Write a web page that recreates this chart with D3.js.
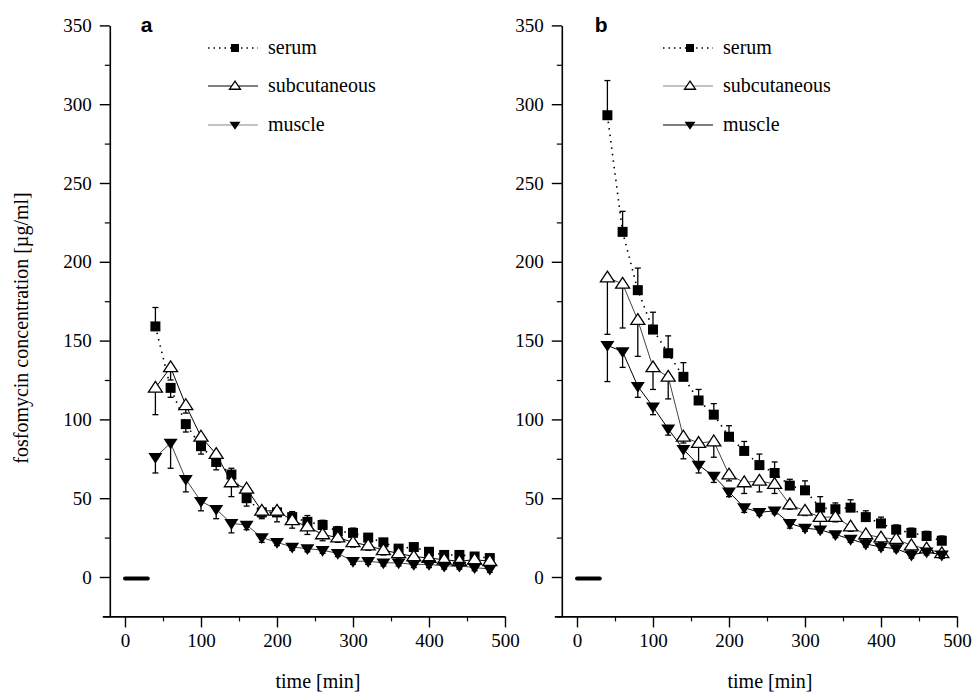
<!DOCTYPE html>
<html><head><meta charset="utf-8">
<script src="https://cdn.jsdelivr.net/npm/d3@7"></script>
<style>body{margin:0;background:#fff}svg{display:block}</style>
</head><body><svg id="c" width="972" height="693"></svg>
<script>
const times = [40,60,80,100,120,140,160,180,200,220,240,260,280,300,320,340,360,380,400,420,440,460,480];
const baseTimes = [0,30];
const baseValues = [-1,-1];

const aSerum    = [159,120,97,83,73,65,50,41,41,38,35,33,29,28,25,22,18,19,16,14,14,13,12];
const aSerumErr = [12,-6,-5,-5,-5,4,-5,-4,3,3.5,4,3,3,3,2,2,2,2,2,2,2,2,2];
const aSub      = [120,133,109,89,78,60,56,42,42,36,32,27,25,22,20,17,15,13,12,11,10,11,10];
const aSubErr   = [-17,-8,-5,-4,-6,-9,-5,-4,-7,-5,-5,-4,-3,-3,-3,-3,-3,-2,-2,-2,-2,-2,-2];
const aMus      = [76,85,62,48,43,34,33,25,22,19,18,17,15,10,10,9,9,8,8,7,7,6,5];
const aMusErr   = [-10,-16,-8,-6,-6,-6,-3,-3,-2,-2,-2,-2,-2,-2,-2,-2,-2,-2,-2,-2,-2,-2,-2];

const bSerum    = [293,219,182,157,142,127,112,103,89,80,71,66,58,55,44,43,44,38,34,30,28,26,23];
const bSerumErr = [22,13,14,11,11,9,7,7,7,6,7,7,4,6,7,4,5,4,4,3,3,3,3];
const bSub      = [190,186,163,133,127,89,85,86,65,60,61,59,46,42,38,38,32,27,25,24,20,18,15];
const bSubErr   = [-36,-28,-23,-14,-14,-4,-14,-10,-4,-7,-7,-6,-3,-3,-6,-3,-3,-3,-3,-3,-3,-3,-3];
const bMus      = [147,143,121,108,94,81,71,64,54,44,41,42,34,31,30,27,24,21,19,18,14,16,14];
const bMusErr   = [-23,-10,-7,-5,-4,-6,-5,-4,-3,-3,-2,-2,-3,-2,-2,-2,-2,-2,-2,-2,-2,-2,-2];

const seriesNames = ["serum","subcutaneous","muscle"];
const xMajor = [0,100,200,300,400,500];
const xMinor = [50,150,250,350,450];
const yMajor = [0,50,100,150,200,250,300,350];
const yMinor = [-25,25,75,125,175,225,275,325];
const panelLabels = ["a","b"];
const xTitle = "time [min]";
const yTitle = "fosfomycin concentration [µg/ml]";

const SERIF = '"Liberation Serif", "Times New Roman", serif';
const SANS = '"Liberation Sans", Arial, sans-serif';
const svg = d3.select("#c");

const panels = [
  {x0:109.8, x1:505, label:panelLabels[0], legX:208,
   data:[aSerum,aSub,aMus], err:[aSerumErr,aSubErr,aMusErr],
   legStroke:["#000","#000","#888"], lineStroke:["#000","#000","#444"]},
  {x0:561.8, x1:957, label:panelLabels[1], legX:663,
   data:[bSerum,bSub,bMus], err:[bSerumErr,bSubErr,bMusErr],
   legStroke:["#000","#888","#000"], lineStroke:["#000","#444","#000"]}
];

const y = d3.scaleLinear().domain([-25,350]).range([616.4,25.4]);

function marker(g, type, cx, cy, s){
  if(type===0){
    g.append("rect").attr("x",cx-s/2).attr("y",cy-s/2).attr("width",s).attr("height",s).attr("fill","#000");
  } else if(type===1){
    const h=s*0.9;
    g.append("path").attr("d",`M${cx},${cy-h*0.6}L${cx+s/2+1},${cy+h*0.4}L${cx-s/2-1},${cy+h*0.4}Z`)
     .attr("fill","#fff").attr("stroke","#000").attr("stroke-width",1.3);
  } else {
    const h=s*0.9;
    g.append("path").attr("d",`M${cx},${cy+h*0.6}L${cx+s/2+1},${cy-h*0.4}L${cx-s/2-1},${cy-h*0.4}Z`)
     .attr("fill","#000");
  }
}

panels.forEach(p=>{
  const x = d3.scaleLinear().domain([-20,500]).range([p.x0,p.x1]);
  const g = svg.append("g");

  // axes
  const xa = g.append("g").attr("transform",`translate(0,${y(-25)})`)
    .call(d3.axisBottom(x).tickValues(xMajor).tickSize(11).tickSizeOuter(0).tickPadding(6));
  xa.selectAll("text").style("font-size","19px").style("font-family",SERIF).attr("fill","#000");
  xa.select(".domain").attr("d",`M${p.x0-7},0.5H${p.x1}`).attr("stroke-width",1.6);
  xa.selectAll(".tick line").attr("stroke-width",1.4);
  g.append("g").attr("transform",`translate(0,${y(-25)})`)
    .call(d3.axisBottom(x).tickValues(xMinor).tickSize(5).tickSizeOuter(0).tickFormat(""))
    .call(s=>s.select(".domain").remove()).selectAll("line").attr("stroke-width",1.2);

  const ya = g.append("g").attr("transform",`translate(${p.x0},0)`)
    .call(d3.axisLeft(y).tickValues(yMajor).tickSize(10).tickSizeOuter(0).tickPadding(8));
  ya.selectAll("text").style("font-size","19px").style("font-family",SERIF).attr("fill","#000");
  ya.select(".domain").attr("stroke-width",1.6);
  ya.selectAll(".tick line").attr("stroke-width",1.4);
  g.append("g").attr("transform",`translate(${p.x0},0)`)
    .call(d3.axisLeft(y).tickValues(yMinor).tickSize(5).tickSizeOuter(0).tickFormat(""))
    .call(s=>s.select(".domain").remove()).selectAll("line").attr("stroke-width",1.2);

  // x title
  g.append("text").attr("x",(x(0)+x(500))/2+3).attr("y",688).attr("text-anchor","middle")
    .style("font-family",SERIF).style("font-size","20px").text(xTitle);

  // panel label
  g.append("text").attr("x",x(30)+(p.label==="a"?-7:-5)).attr("y",32)
    .style("font-family",SANS).style("font-weight","bold").style("font-size","21px").text(p.label);

  // baseline
  g.append("path").datum(baseTimes.map((t,i)=>[t,baseValues[i]]))
    .attr("d",d3.line().x(d=>x(d[0])).y(d=>y(d[1])))
    .attr("stroke","#000").attr("stroke-width",4).attr("stroke-linecap","round").attr("fill","none");

  const line = d3.line().x(d=>x(d[0])).y(d=>y(d[1]));
  // lines
  p.data.forEach((vals,si)=>{
    g.append("path").datum(times.map((t,i)=>[t,vals[i]]))
      .attr("d",line).attr("fill","none").attr("stroke",p.lineStroke[si])
      .attr("stroke-width",si===0?1.6:1)
      .attr("stroke-dasharray",si===0?"1.5,5":null);
  });
  // error bars
  p.data.forEach((vals,si)=>{
    times.forEach((t,i)=>{
      const e=p.err[si][i]; const cx=x(t);
      const y1=y(vals[i]), y2=y(vals[i]+e);
      g.append("line").attr("x1",cx).attr("x2",cx).attr("y1",y1).attr("y2",y2).attr("stroke","#000").attr("stroke-width",1.3);
      g.append("line").attr("x1",cx-3).attr("x2",cx+3).attr("y1",y2).attr("y2",y2).attr("stroke","#000").attr("stroke-width",1.3);
    });
  });
  // markers
  p.data.forEach((vals,si)=>{
    times.forEach((t,i)=> marker(g, si, x(t), y(vals[i]), si===0?10:12));
  });

  // legend
  const ly=[48,86,125];
  seriesNames.forEach((n,si)=>{
    const lg=g.append("g");
    lg.append("line").attr("x1",p.legX).attr("x2",p.legX+50).attr("y1",ly[si]).attr("y2",ly[si])
      .attr("stroke",p.legStroke[si]).attr("stroke-width",si===0?1.4:1.2)
      .attr("stroke-dasharray",si===0?"1.5,4":null);
    marker(lg, si, p.legX+27, ly[si], si===0?8:9);
    lg.append("text").attr("x",p.legX+60).attr("y",ly[si]+6)
      .style("font-family",SERIF).style("font-size","20px").text(n);
  });
});

svg.append("text").attr("transform","translate(28,328) rotate(-90)").attr("text-anchor","middle")
  .style("font-family",SERIF).style("font-size","20px").text(yTitle);
</script></body></html>
